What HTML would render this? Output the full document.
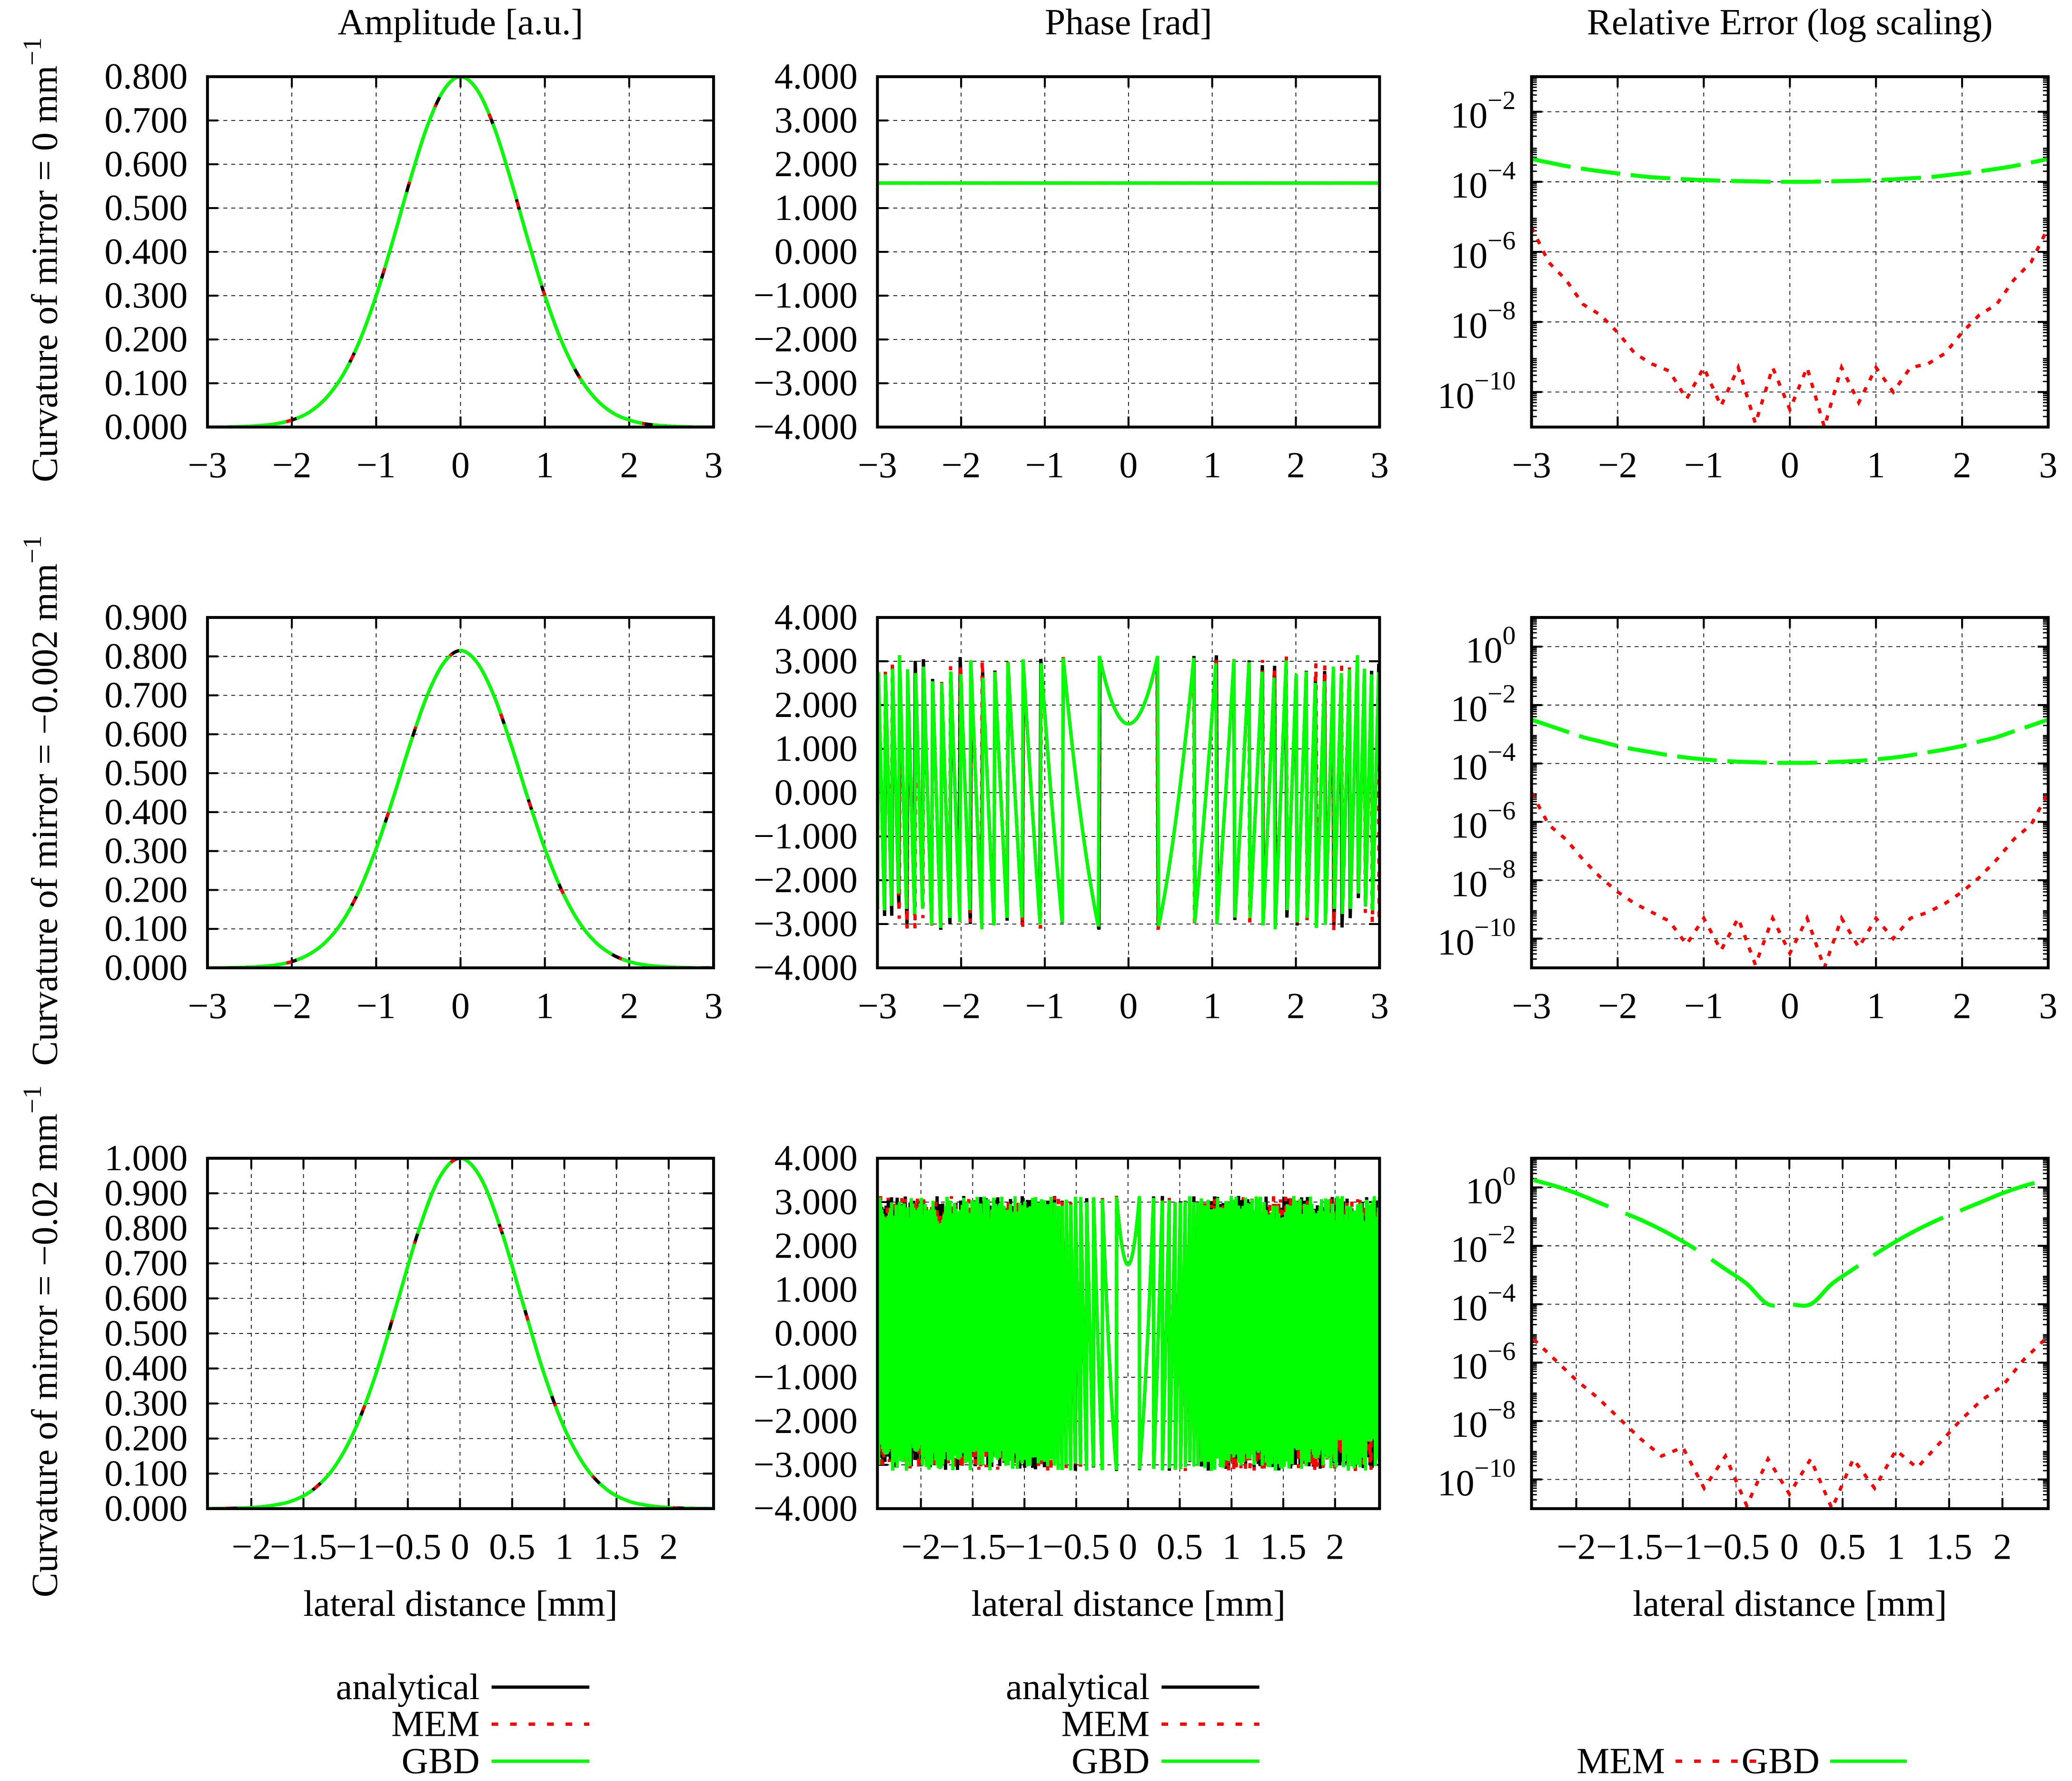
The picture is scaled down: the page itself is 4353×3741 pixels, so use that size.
<!DOCTYPE html>
<html><head><meta charset="utf-8">
<style>
html,body{margin:0;padding:0;background:#fff;}
svg{display:block;}
text{font-family:"Liberation Serif","DejaVu Serif",serif;fill:#000;}
</style></head>
<body>
<svg id="fig" xmlns="http://www.w3.org/2000/svg" width="4353" height="3741" viewBox="0 0 1568 1347" preserveAspectRatio="none"></svg>
<script>
// ---------------- data ----------------
const ampX = [0,0.2,0.4,0.6,0.8,1.0,1.2,1.4,1.6,1.8,2.0,2.2,2.4,2.6,2.8,3.0];
const amp0 = [0.800,0.769,0.684,0.562,0.427,0.300,0.195,0.117,0.065,0.033,0.016,0.007,0.003,0.001,0,0];
const amp1 = [0.815,0.783,0.697,0.573,0.435,0.306,0.199,0.119,0.066,0.034,0.016,0.007,0.003,0.001,0,0];
const amp2 = [1.000,0.943,0.790,0.589,0.390,0.230,0.120,0.056,0.023,0.009,0.003,0.001,0,0,0,0];
const phaseOffset = [1.57,1.57,1.57];
const phaseCurv = [0.0,12.8,128];
const errX = [-3,-2.8,-2.6,-2.4,-2.2,-2,-1.8,-1.6,-1.4,-1.2,-1,-0.8,-0.6,-0.4,-0.2,0,0.2,0.4,0.6,0.8,1,1.2,1.4,1.6,1.8,2,2.2,2.4,2.6,2.8,3];
const memExp0 = [-5.3,-6.3,-6.8,-7.5,-7.8,-8.3,-8.9,-9.2,-9.4,-10.2,-9.3,-10.4,-9.3,-10.9,-9.3,-10.5,-9.3,-11,-9.3,-10.3,-9.3,-10,-9.3,-9.2,-8.9,-8.3,-7.8,-7.5,-6.8,-6.3,-5.3];
const gbdExp0 = [-3.35,-3.45,-3.55,-3.63,-3.7,-3.76,-3.82,-3.87,-3.9,-3.93,-3.95,-3.97,-3.98,-3.99,-4.0,-4.0,-4.0,-3.99,-3.98,-3.97,-3.95,-3.93,-3.9,-3.87,-3.82,-3.76,-3.7,-3.63,-3.55,-3.45,-3.35];
const memExp1 = [-5.0,-6.1,-6.6,-7.3,-7.9,-8.4,-8.8,-9.1,-9.4,-10.2,-9.3,-10.4,-9.3,-10.9,-9.3,-10.5,-9.3,-11,-9.3,-10.3,-9.3,-10,-9.3,-9.1,-8.8,-8.4,-7.9,-7.3,-6.6,-6.1,-5.0];
const gbdExp1 = [-2.5,-2.7,-2.9,-3.1,-3.25,-3.4,-3.52,-3.62,-3.72,-3.8,-3.86,-3.91,-3.94,-3.96,-3.98,-3.98,-3.98,-3.96,-3.94,-3.91,-3.86,-3.8,-3.72,-3.62,-3.52,-3.4,-3.25,-3.1,-2.9,-2.7,-2.5];
const errX2 = [-2.4,-2.2,-2,-1.8,-1.6,-1.4,-1.2,-1,-0.8,-0.6,-0.4,-0.2,0,0.2,0.4,0.6,0.8,1,1.2,1.4,1.6,1.8,2,2.2,2.4];
const memExp2 = [-5.2,-5.9,-6.6,-7.2,-7.9,-8.6,-9.2,-8.9,-10.3,-9.2,-10.9,-9.3,-10.5,-9.3,-11,-9.3,-10.3,-9.0,-9.6,-8.8,-8.0,-7.3,-6.8,-5.9,-5.2];
const gbdExp2 = [0.25,0.05,-0.2,-0.5,-0.8,-1.1,-1.45,-1.85,-2.3,-2.8,-3.3,-4.0,-4.0,-4.0,-3.3,-2.8,-2.3,-1.85,-1.45,-1.1,-0.8,-0.5,-0.2,0.05,0.25];

// ---------------- layout ----------------
const svg = document.getElementById('fig');
const NS = 'http://www.w3.org/2000/svg';
const FS = 28;
function mk(tag, attrs, parent){const e=document.createElementNS(NS,tag);for(const k in attrs)e.setAttribute(k,attrs[k]);(parent||svg).appendChild(e);return e;}
function txt(s,x,y,size,anchor,parent){const t=mk('text',{x:x,y:y,'font-size':size,'text-anchor':anchor||'middle'},parent);t.textContent=s;return t;}
const cols=[[157,540],[664,1044],[1159,1550]];
const rows=[[58,323],[467,732],[876,1141]];
const xr=[[-3,3],[-3,3],[-2.42,2.43]];
const xt=[[-3,-2,-1,0,1,2,3],[-3,-2,-1,0,1,2,3],[-2,-1.5,-1,-0.5,0,0.5,1,1.5,2]];
const ampMax=[0.8,0.9,1.0];
const amps=[amp0,amp1,amp2];
const memE=[memExp0,memExp1,memExp2];
const gbdE=[gbdExp0,gbdExp1,gbdExp2];
const eX=[errX,errX,errX2];
const logR=[[-11,-1],[-11,1],[-11,1]];
const fmtX=v=>String(v).replace('-','−');
const fmtY=v=>(v<0?'−':'')+Math.abs(v).toFixed(3);

function smoothPath(pts){
  let d='M'+pts[0][0].toFixed(2)+','+pts[0][1].toFixed(2);
  for(let i=0;i<pts.length-1;i++){
    const p0=pts[Math.max(i-1,0)],p1=pts[i],p2=pts[i+1],p3=pts[Math.min(i+2,pts.length-1)];
    const c1=[p1[0]+(p2[0]-p0[0])/6,p1[1]+(p2[1]-p0[1])/6];
    const c2=[p2[0]-(p3[0]-p1[0])/6,p2[1]-(p3[1]-p1[1])/6];
    d+=' C'+c1[0].toFixed(2)+','+c1[1].toFixed(2)+' '+c2[0].toFixed(2)+','+c2[1].toFixed(2)+' '+p2[0].toFixed(2)+','+p2[1].toFixed(2);
  }
  return d;
}

// titles
const titles=['Amplitude [a.u.]','Phase [rad]','Relative Error (log scaling)'];
titles.forEach((t,i)=>{const e=txt(t,(cols[i][0]+cols[i][1])/2,26,FS);

});
const ylabs=['0','−0.002','−0.02'];
rows.forEach((r,i)=>{
  const cy=(r[0]+r[1])/2;
  const g=mk('g',{transform:'translate(43,'+(cy+6)+') rotate(-90)'});
  
  
  const t=mk('text',{x:0,y:0,'font-size':FS,'text-anchor':'middle'},g);
  t.textContent='Curvature of mirror = '+ylabs[i]+' mm';
  const s=mk('tspan',{dy:-12,'font-size':20},t);s.textContent='−1';
});

for(let r=0;r<3;r++){
  for(let c=0;c<3;c++){
    const [L,R]=cols[c],[T,B]=rows[r];
    const [x0,x1]=xr[r];
    const X=v=>L+(v-x0)/(x1-x0)*(R-L);
    let Y, yticks, ylabelF;
    if(c==0){const m=ampMax[r];Y=v=>B-v/m*(B-T);yticks=[];for(let k=0;k<=Math.round(m*10);k++)yticks.push(k/10);ylabelF=fmtY;}
    else if(c==1){Y=v=>B-(v+4)/8*(B-T);yticks=[-4,-3,-2,-1,0,1,2,3,4];ylabelF=fmtY;}
    else {const [a,b]=logR[r];Y=v=>B-(v-a)/(b-a)*(B-T);yticks=[];for(let k=-10;k<=b;k+=2)yticks.push(k);}
    const g=mk('g',{});
    
    
    const clipId='clip'+r+c;
    const cp=mk('clipPath',{id:clipId},g);mk('rect',{x:L,y:T,width:R-L,height:B-T},cp);
    // grid
    xt[r].forEach(v=>{if(v>x0&&v<x1){const l=mk('line',{x1:X(v),x2:X(v),y1:T,y2:B,stroke:'#000','stroke-width':0.6,'stroke-dasharray':'3,3'},g);}});
    yticks.forEach(v=>{const y=Y(v);if(y>T+0.5&&y<B-0.5){const l=mk('line',{x1:L,x2:R,y1:y,y2:y,stroke:'#000','stroke-width':0.6,'stroke-dasharray':'3,3'},g);}});
    // ticks
    xt[r].forEach(v=>{const x=X(v);mk('line',{x1:x,x2:x,y1:B,y2:B-8,stroke:'#000','stroke-width':1.5},g);mk('line',{x1:x,x2:x,y1:T,y2:T+8,stroke:'#000','stroke-width':1.5},g);
      const t=txt(fmtX(v),x,B+38,FS,'middle',g);});
    yticks.forEach(v=>{const y=Y(v);mk('line',{x1:L,x2:L+8,y1:y,y2:y,stroke:'#000','stroke-width':1.5},g);mk('line',{x1:R,x2:R-8,y1:y,y2:y,stroke:'#000','stroke-width':1.5},g);
      let t;
      if(c<2){t=txt(ylabelF(v),L-15,y+9,FS,'end',g);}
      else{t=mk('text',{x:L-12,y:y+12,'font-size':FS,'text-anchor':'end'},g);
        const a=mk('tspan',{},t);a.textContent='10';const s=mk('tspan',{dy:-14,'font-size':20},t);s.textContent=(v<0?'−':'')+Math.abs(v);}
      });
    if(c==2){const [a,b]=logR[r];for(let d=a;d<b;d++){for(let m=2;m<=9;m++){const y=Y(d+Math.log10(m));if(y<T||y>B)continue;mk('line',{x1:L,x2:L+4,y1:y,y2:y,stroke:'#000','stroke-width':1},g);mk('line',{x1:R,x2:R-4,y1:y,y2:y,stroke:'#000','stroke-width':1},g);}}}
    const pg=mk('g',{'clip-path':'url(#'+clipId+')'},g);
    // series
    if(c==0){
      const vals=amps[r];
      const pts=[];for(let i=ampX.length-1;i>0;i--)pts.push([X(-ampX[i]),Y(vals[i])]);for(let i=0;i<ampX.length;i++)pts.push([X(ampX[i]),Y(vals[i])]);
      const d=smoothPath(pts);
      let e=mk('path',{d:d,fill:'none',stroke:'#000','stroke-width':2.5},pg);
      e=mk('path',{d:d,fill:'none',stroke:'#f00','stroke-width':2.5,'stroke-dasharray':'4,6'},pg);
      e=mk('path',{d:d,fill:'none',stroke:'#0f0','stroke-width':2.5,'stroke-dasharray':'60,8'},pg);
    } else if(c==1){
      const ph=x=>{let p=phaseOffset[r]+phaseCurv[r]*x*x+Math.PI;p=((p%(2*Math.PI))+2*Math.PI)%(2*Math.PI);return p-Math.PI;};
      const mkLine=(dx,off)=>{let s='';for(let x=x0+off;x<=x1;x+=dx)s+=X(x).toFixed(2)+','+Y(ph(x)).toFixed(2)+' ';return s;};
      const dxs=r==2?[0.0016,0.0017,0.0015]:[0.0122,0.0118,0.0120];
      let e=mk('polyline',{points:mkLine(dxs[0],0.0003),fill:'none',stroke:'#000','stroke-width':2.5},pg);
      e=mk('polyline',{points:mkLine(dxs[1],0.0006),fill:'none',stroke:'#f00','stroke-width':2.5,'stroke-dasharray':'4,6'},pg);
      e=mk('polyline',{points:mkLine(dxs[2],0),fill:'none',stroke:'#0f0','stroke-width':2.5},pg);
    } else {
      const xs=eX[r];
      const mp=xs.map((x,i)=>[X(x),Y(memE[r][i])]);
      const gp=xs.map((x,i)=>[X(x),Y(gbdE[r][i])]);
      let e=mk('polyline',{points:mp.map(p=>p[0].toFixed(2)+','+p[1].toFixed(2)).join(' '),fill:'none',stroke:'#f00','stroke-width':2.5,'stroke-dasharray':'4,6'},pg);
      e=mk('path',{d:smoothPath(gp),fill:'none',stroke:'#0f0','stroke-width':3,'stroke-dasharray':r==2?'60,14':'30,8'},pg);
    }
    const bx=mk('rect',{x:L,y:T,width:R-L,height:B-T,fill:'none',stroke:'#000','stroke-width':2.2},g);
    
  }
}
// x axis labels
cols.forEach((cc,i)=>{const t=txt('lateral distance [mm]',(cc[0]+cc[1])/2,1222,FS);});
// legends
function legend(tx,lx,items,name){
  const g=mk('g',{});
  items.forEach(it=>{const t=txt(it[0],tx,it[2]+9,FS,'end',g);
    const l=mk('line',{x1:lx,x2:lx+74,y1:it[2],y2:it[2],stroke:it[1],'stroke-width':2.5,'stroke-dasharray':it[3]||'none'},g);});
}
legend(363,372,[['analytical','#000',1276],['MEM','#f00',1304,'5,9'],['GBD','#0f0',1332]],'legend-amplitude');
legend(870,879,[['analytical','#000',1276],['MEM','#f00',1304,'5,9'],['GBD','#0f0',1332]],'legend-phase');
(function(){const g=mk('g',{});
  let t=txt('MEM',1260,1341,FS,'end',g);
  let l=mk('line',{x1:1268,x2:1330,y1:1332,y2:1332,stroke:'#f00','stroke-width':2.5,'stroke-dasharray':'5,9'},g);
  t=txt('GBD',1377,1341,FS,'end',g);
  l=mk('line',{x1:1385,x2:1443,y1:1332,y2:1332,stroke:'#0f0','stroke-width':2.5},g);
})();
</script>
</body></html>
